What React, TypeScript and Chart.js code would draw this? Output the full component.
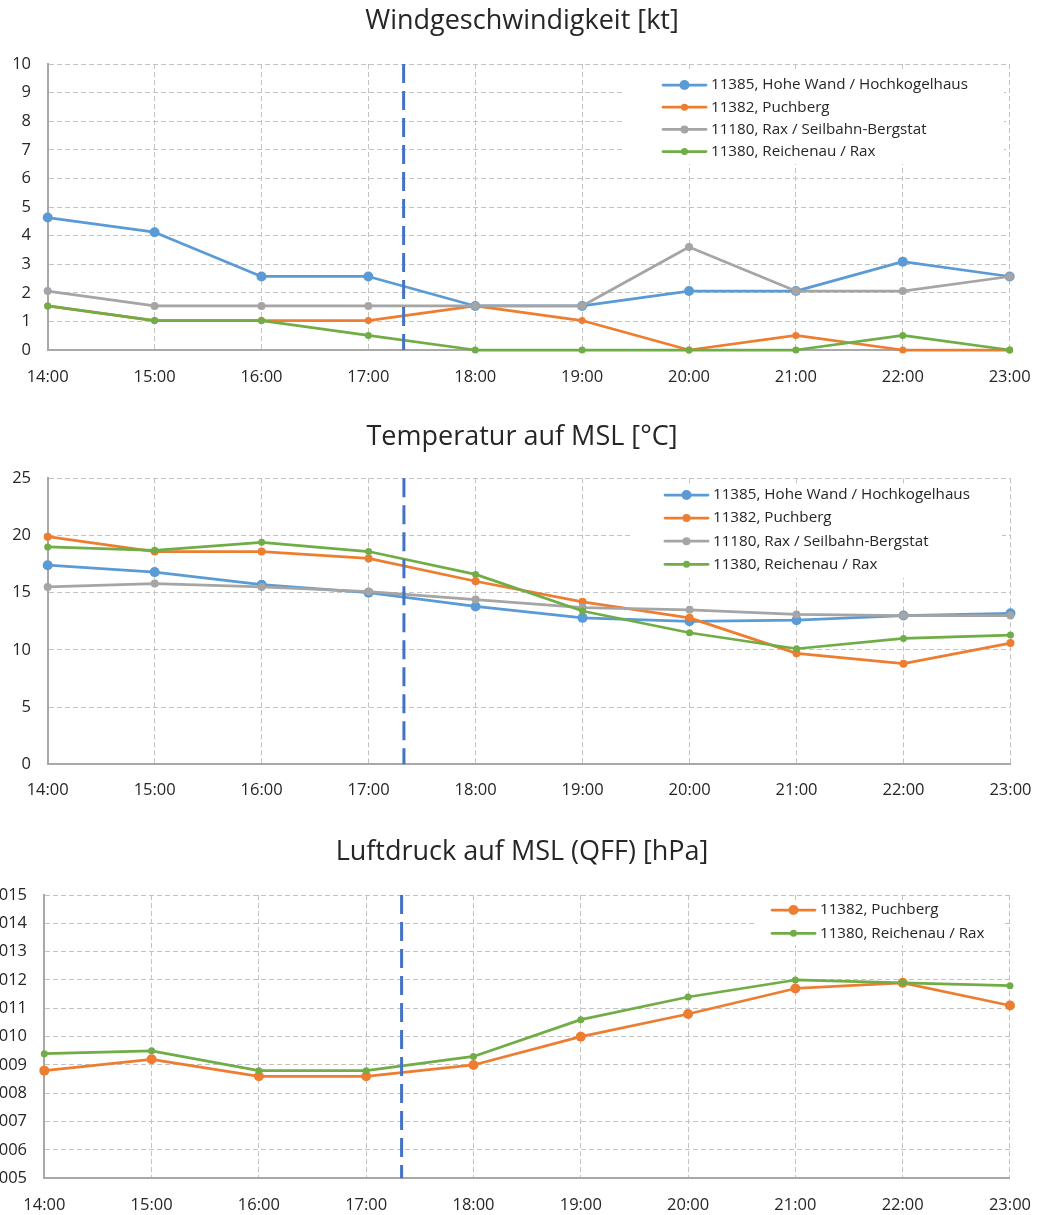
import React, { useEffect, useRef } from "react";
import { Chart, registerables } from "chart.js";

Chart.register(...registerables);

// Hourly observations, 14:00 – 23:00
const HOURS = ["14:00", "15:00", "16:00", "17:00", "18:00", "19:00", "20:00", "21:00", "22:00", "23:00"];

const STATION_11385 = "11385, Hohe Wand / Hochkogelhaus";
const STATION_11382 = "11382, Puchberg";
const STATION_11180 = "11180, Rax / Seilbahn-Bergstat";
const STATION_11380 = "11380, Reichenau / Rax";

// Wind speed [kt]
const WIND_11385 = [4.63, 4.12, 2.57, 2.57, 1.54, 1.54, 2.06, 2.06, 3.09, 2.57];
const WIND_11382 = [1.54, 1.03, 1.03, 1.03, 1.54, 1.03, 0, 0.51, 0, 0];
const WIND_11180 = [2.06, 1.54, 1.54, 1.54, 1.54, 1.54, 3.6, 2.06, 2.06, 2.57];
const WIND_11380 = [1.54, 1.03, 1.03, 0.51, 0, 0, 0, 0, 0.51, 0];

// Temperature reduced to MSL [°C]
const TEMP_11385 = [17.4, 16.8, 15.7, 15.0, 13.8, 12.8, 12.5, 12.6, 13.0, 13.2];
const TEMP_11382 = [19.9, 18.6, 18.6, 18.0, 16.0, 14.2, 12.8, 9.7, 8.8, 10.6];
const TEMP_11180 = [15.5, 15.8, 15.5, 15.1, 14.4, 13.7, 13.5, 13.1, 13.0, 13.0];
const TEMP_11380 = [19.0, 18.7, 19.4, 18.6, 16.6, 13.4, 11.5, 10.1, 11.0, 11.3];

// Pressure reduced to MSL (QFF) [hPa]
const QFF_11382 = [1008.8, 1009.2, 1008.6, 1008.6, 1009.0, 1010.0, 1010.8, 1011.7, 1011.9, 1011.1];
const QFF_11380 = [1009.4, 1009.5, 1008.8, 1008.8, 1009.3, 1010.6, 1011.4, 1012.0, 1011.9, 1011.8];

// Axis ranges
const WIND_AXIS = { min: 0, max: 10, step: 1 };
const TEMP_AXIS = { min: 0, max: 25, step: 5 };
const QFF_AXIS = { min: 1005, max: 1015, step: 1 };

// Current time marker (17:20), as a fractional category index
const NOW_INDEX = 3.33;

const BLUE = "#5B9BD5";
const ORANGE = "#ED7D31";
const GREY = "#A5A5A5";
const GREEN = "#70AD47";
const TEXT = "#262626";
const FONT = "'Open Sans'";

const TITLE_SIZE = 27;
const TICK_SIZE = 16.5;
const LEGEND_SIZE = 15.2;

type Series = { label: string; data: number[]; color: string; radius: number };
type LegendGeom = { x: number; y: number; w: number; h: number; lineX: number; firstRow: number; rowGap: number };

// Panel heading, centred over the page rather than the plot area
const panelTitle = {
  id: "panelTitle",
  afterDraw(chart: any, _args: any, opts: any) {
    const { ctx } = chart;
    ctx.save();
    ctx.fillStyle = opts.color;
    ctx.font = `${opts.size}px ${FONT}`;
    ctx.textAlign = "center";
    ctx.textBaseline = "middle";
    ctx.fillText(opts.text, opts.x, opts.y);
    ctx.restore();
  },
};

// Vertical dashed line marking the current time
const nowMarker = {
  id: "nowMarker",
  afterDatasetsDraw(chart: any, _args: any, opts: any) {
    const { ctx, chartArea } = chart;
    const x = chart.scales.x.getPixelForValue(opts.index);
    ctx.save();
    ctx.strokeStyle = opts.color;
    ctx.lineWidth = opts.width;
    ctx.setLineDash(opts.dash);
    ctx.beginPath();
    ctx.moveTo(x, chartArea.top);
    ctx.lineTo(x, chartArea.bottom);
    ctx.stroke();
    ctx.restore();
  },
};

// Legend in a white box inside the plot area
const boxLegend = {
  id: "boxLegend",
  afterDatasetsDraw(chart: any, _args: any, opts: any) {
    const { ctx } = chart;
    const g: LegendGeom = opts.geom;
    ctx.save();
    ctx.fillStyle = "#ffffff";
    ctx.fillRect(g.x, g.y, g.w, g.h);
    chart.data.datasets.forEach((ds: any, i: number) => {
      const y = g.firstRow + i * g.rowGap;
      ctx.strokeStyle = ds.borderColor;
      ctx.lineWidth = ds.borderWidth;
      ctx.lineCap = "round";
      ctx.setLineDash([]);
      ctx.beginPath();
      ctx.moveTo(g.lineX, y);
      ctx.lineTo(g.lineX + opts.lineLength, y);
      ctx.stroke();
      ctx.fillStyle = ds.borderColor;
      ctx.beginPath();
      ctx.arc(g.lineX + opts.lineLength / 2, y, ds.pointRadius, 0, Math.PI * 2);
      ctx.fill();
      ctx.fillStyle = opts.color;
      ctx.font = `${opts.fontSize}px ${FONT}`;
      ctx.textBaseline = "middle";
      ctx.textAlign = "left";
      ctx.fillText(ds.label, g.lineX + opts.lineLength + opts.textGap, y);
    });
    ctx.restore();
  },
};

interface PanelProps {
  top: number;
  height: number;
  title: string;
  titleMid: number;
  series: Series[];
  axis: { min: number; max: number; step: number };
  padRight: number;
  plotLeft: number;
  plotTop: number;
  plotBottom: number;
  labelGap: number;
  yLabelGap: number;
  legend: LegendGeom;
}

function Panel(p: PanelProps) {
  const ref = useRef<HTMLCanvasElement>(null);

  useEffect(() => {
    if (!ref.current) return;
    const n = p.series.length;
    const chart = new Chart(ref.current, {
      type: "line",
      data: {
        labels: HOURS,
        datasets: p.series.map((s, i) => ({
          label: s.label,
          data: s.data,
          borderColor: s.color,
          backgroundColor: s.color,
          pointBackgroundColor: s.color,
          pointBorderColor: s.color,
          pointRadius: s.radius,
          pointBorderWidth: 0,
          borderWidth: 2.75,
          borderJoinStyle: "round",
          borderCapStyle: "round",
          tension: 0,
          clip: false,
          order: n - 1 - i,
        })),
      },
      options: {
        responsive: false,
        animation: false,
        events: [],
        layout: { padding: { left: 0, right: p.padRight, top: p.plotTop, bottom: 0 } },
        plugins: {
          legend: { display: false },
          tooltip: { enabled: false },
          title: { display: false },
          panelTitle: { text: p.title, x: 522, y: p.titleMid, size: TITLE_SIZE, color: TEXT },
          nowMarker: { index: NOW_INDEX, color: "#4472C4", width: 3, dash: [19, 8] },
          boxLegend: { geom: p.legend, lineLength: 43, textGap: 5, fontSize: LEGEND_SIZE, color: TEXT },
        } as any,
        scales: {
          x: {
            type: "category",
            offset: false,
            grid: { color: "#C3C3C3", lineWidth: 1, drawTicks: false },
            border: { display: true, color: "#A8A8A8", width: 2, dash: [5, 3] },
            ticks: {
              color: TEXT,
              font: { family: FONT, size: TICK_SIZE, lineHeight: 1.2 },
              padding: p.labelGap,
              autoSkip: false,
              maxRotation: 0,
            },
            afterFit: (scale: any) => {
              scale.height = p.height - p.plotBottom;
            },
          },
          y: {
            type: "linear",
            min: p.axis.min,
            max: p.axis.max,
            grid: { color: "#C3C3C3", lineWidth: 1, drawTicks: false },
            border: { display: true, color: "#A8A8A8", width: 2, dash: [5, 3] },
            ticks: {
              stepSize: p.axis.step,
              color: TEXT,
              font: { family: FONT, size: TICK_SIZE, lineHeight: 1.2 },
              padding: p.yLabelGap,
            },
            afterFit: (scale: any) => {
              scale.width = p.plotLeft;
            },
          },
        },
      } as any,
      plugins: [nowMarker, boxLegend, panelTitle],
    });
    return () => chart.destroy();
  }, []);

  return (
    <canvas
      ref={ref}
      width={1048}
      height={p.height}
      style={{ position: "absolute", left: 0, top: p.top, width: 1048, height: p.height }}
    />
  );
}

const windSeries: Series[] = [
  { label: STATION_11385, data: WIND_11385, color: BLUE, radius: 5 },
  { label: STATION_11382, data: WIND_11382, color: ORANGE, radius: 3.5 },
  { label: STATION_11180, data: WIND_11180, color: GREY, radius: 4 },
  { label: STATION_11380, data: WIND_11380, color: GREEN, radius: 3.5 },
];

const tempSeries: Series[] = [
  { label: STATION_11385, data: TEMP_11385, color: BLUE, radius: 5 },
  { label: STATION_11382, data: TEMP_11382, color: ORANGE, radius: 4 },
  { label: STATION_11180, data: TEMP_11180, color: GREY, radius: 4 },
  { label: STATION_11380, data: TEMP_11380, color: GREEN, radius: 3.5 },
];

const qffSeries: Series[] = [
  { label: STATION_11382, data: QFF_11382, color: ORANGE, radius: 5 },
  { label: STATION_11380, data: QFF_11380, color: GREEN, radius: 3.5 },
];

export default function App() {
  return (
    <div style={{ position: "absolute", left: 0, top: 0, width: 1048, height: 1215, background: "#fff", overflow: "hidden" }}>
      <Panel
        top={0}
        height={405}
        title="Windgeschwindigkeit [kt]"
        titleMid={21.5}
        series={windSeries}
        axis={WIND_AXIS}
        padRight={33}
        plotLeft={47.7}
        plotTop={64}
        plotBottom={350}
        labelGap={17.3}
        yLabelGap={16.7}
        legend={{ x: 624, y: 70, w: 380, h: 94, lineX: 663, firstRow: 85, rowGap: 22.2 }}
      />
      <Panel
        top={414}
        height={405}
        title="Temperatur auf MSL [°C]"
        titleMid={23}
        series={tempSeries}
        axis={TEMP_AXIS}
        padRight={33}
        plotLeft={47.7}
        plotTop={64.3}
        plotBottom={350.3}
        labelGap={16.5}
        yLabelGap={16.7}
        legend={{ x: 633, y: 70, w: 369, h: 94, lineX: 665, firstRow: 81, rowGap: 23.1 }}
      />
      <Panel
        top={831}
        height={384}
        title="Luftdruck auf MSL (QFF) [hPa]"
        titleMid={21.3}
        series={qffSeries}
        axis={QFF_AXIS}
        padRight={31.3}
        plotLeft={44.3}
        plotTop={64}
        plotBottom={347.3}
        labelGap={17}
        yLabelGap={17.3}
        legend={{ x: 755, y: 71, w: 247, h: 43, lineX: 772, firstRow: 79, rowGap: 23.3 }}
      />
    </div>
  );
}
